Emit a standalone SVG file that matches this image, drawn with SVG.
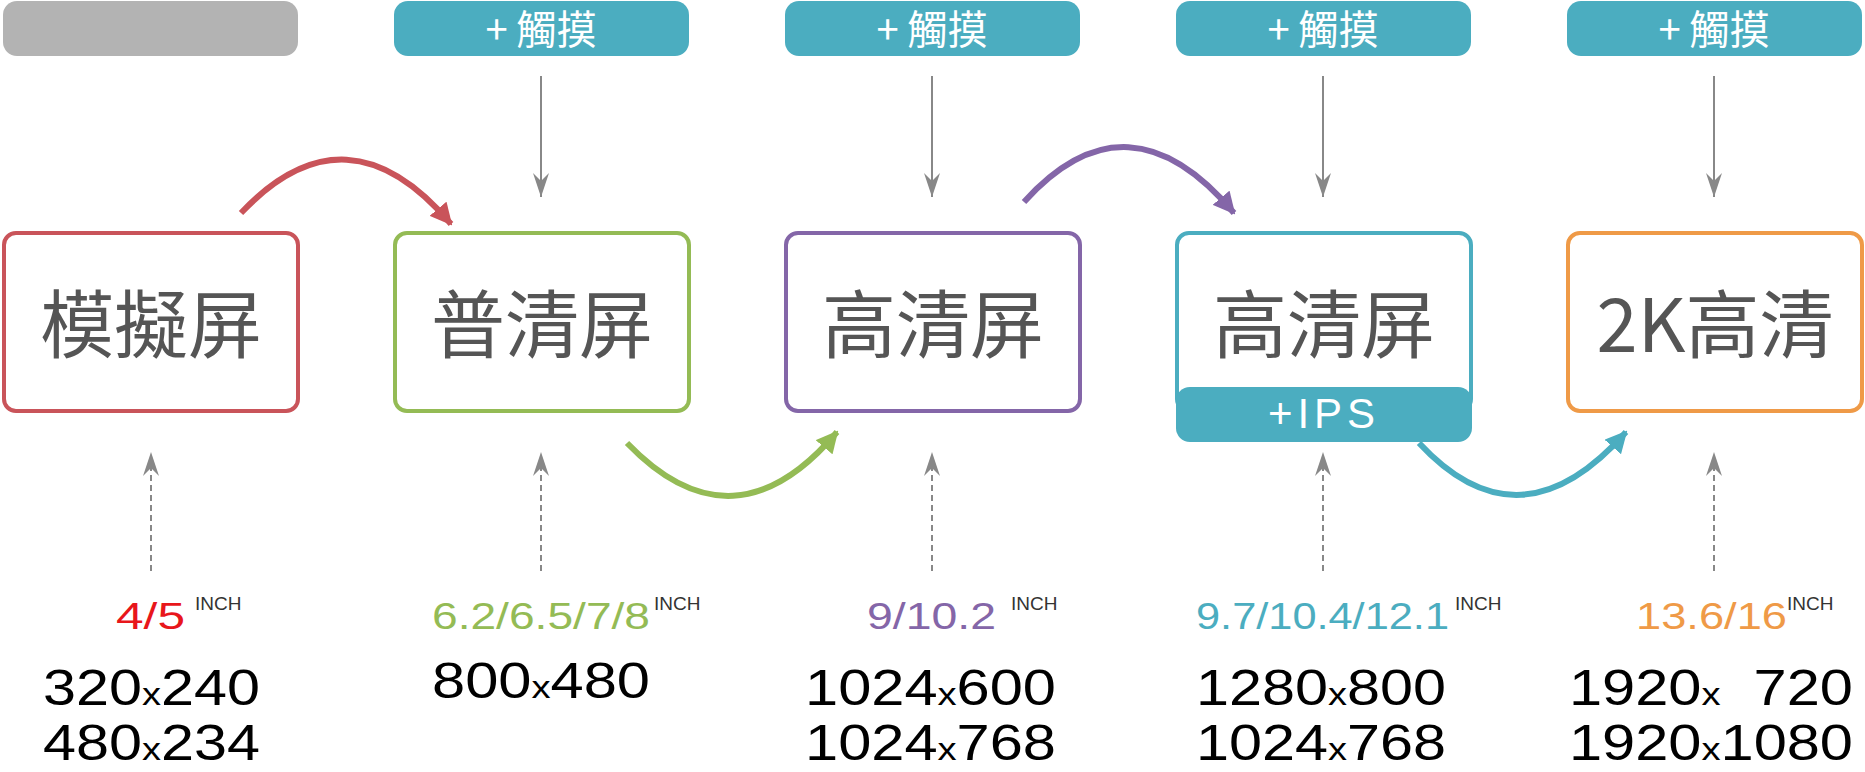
<svg xmlns="http://www.w3.org/2000/svg" width="1865" height="772" viewBox="0 0 1865 772">
<style>
.box{fill:#fff;stroke-width:4}
.pill{fill:#4badc0}
.pt{font-family:"Noto Sans CJK TC","Liberation Sans",sans-serif;font-size:40px;fill:#fff;text-anchor:middle}
.bt{font-family:"Noto Sans CJK TC","Liberation Sans",sans-serif;font-size:74px;fill:#555;text-anchor:middle}
.in{font-family:"Liberation Sans",sans-serif;font-size:36px}
.sup{font-family:"Liberation Sans",sans-serif;font-size:19px;fill:#333}
.res{font-family:"Liberation Sans",sans-serif;font-size:50px;fill:#000}
.x{font-size:32px}
.ga{stroke:#888;stroke-width:2;fill:none}
.cv{fill:none;stroke-width:6}
</style>
<defs>
<marker id="dn" markerUnits="userSpaceOnUse" markerWidth="24" markerHeight="16" viewBox="0 0 24 16" refX="24" refY="8" orient="auto"><path d="M24,8 L0,0 L8,8 L0,16 Z" fill="#888"/></marker>
<marker id="mr" markerUnits="userSpaceOnUse" markerWidth="22" markerHeight="22" viewBox="0 0 22 22" refX="20" refY="11" orient="auto"><path d="M0,0 L22,11 L0,22 Z" fill="#c9545a"/></marker>
<marker id="mg" markerUnits="userSpaceOnUse" markerWidth="22" markerHeight="22" viewBox="0 0 22 22" refX="20" refY="11" orient="auto"><path d="M0,0 L22,11 L0,22 Z" fill="#94bb55"/></marker>
<marker id="mp" markerUnits="userSpaceOnUse" markerWidth="22" markerHeight="22" viewBox="0 0 22 22" refX="20" refY="11" orient="auto"><path d="M0,0 L22,11 L0,22 Z" fill="#8466a8"/></marker>
<marker id="mt" markerUnits="userSpaceOnUse" markerWidth="22" markerHeight="22" viewBox="0 0 22 22" refX="20" refY="11" orient="auto"><path d="M0,0 L22,11 L0,22 Z" fill="#4badc0"/></marker>
</defs>
<rect x="3" y="1" width="295" height="55" rx="14" fill="#b3b3b3"/>
<g id="t2"><rect class="pill" x="394" y="1" width="295" height="55" rx="14"/><text class="pt" x="541" y="44" xml:space="preserve">+ 觸摸</text></g>
<g id="t3"><rect class="pill" x="785" y="1" width="295" height="55" rx="14"/><text class="pt" x="932" y="44" xml:space="preserve">+ 觸摸</text></g>
<g id="t4"><rect class="pill" x="1176" y="1" width="295" height="55" rx="14"/><text class="pt" x="1323" y="44" xml:space="preserve">+ 觸摸</text></g>
<g id="t5"><rect class="pill" x="1567" y="1" width="295" height="55" rx="14"/><text class="pt" x="1714" y="44" xml:space="preserve">+ 觸摸</text></g>
<g id="n1"><rect class="box" x="4" y="233" width="294" height="178" rx="12" stroke="#c9545a"/><text class="bt" x="151" y="352">模擬屏</text></g>
<g id="n2"><rect class="box" x="395" y="233" width="294" height="178" rx="12" stroke="#94bb55"/><text class="bt" x="542" y="352">普清屏</text></g>
<g id="n3"><rect class="box" x="786" y="233" width="294" height="178" rx="12" stroke="#8466a8"/><text class="bt" x="933" y="352">高清屏</text></g>
<g id="n4"><rect class="box" x="1177" y="233" width="294" height="178" rx="12" stroke="#4badc0"/><text class="bt" x="1324" y="352">高清屏</text>
<rect class="pill" x="1176" y="387" width="296" height="55" rx="14"/><text x="1324" y="428" font-family="Liberation Sans,sans-serif" font-size="42" fill="#fff" text-anchor="middle" letter-spacing="5">+IPS</text></g>
<g id="n5"><rect class="box" x="1568" y="233" width="294" height="178" rx="12" stroke="#ef9a47"/><text class="bt" x="1715" y="352">2K高清</text></g>
<g id="connectors">
<g class="ga">
<line x1="541" y1="76" x2="541" y2="197" marker-end="url(#dn)"/>
<line x1="932" y1="76" x2="932" y2="197" marker-end="url(#dn)"/>
<line x1="1323" y1="76" x2="1323" y2="197" marker-end="url(#dn)"/>
<line x1="1714" y1="76" x2="1714" y2="197" marker-end="url(#dn)"/>
<g stroke-dasharray="6,4">
<line x1="151" y1="571" x2="151" y2="452" marker-end="url(#dn)"/>
<line x1="541" y1="571" x2="541" y2="452" marker-end="url(#dn)"/>
<line x1="932" y1="571" x2="932" y2="452" marker-end="url(#dn)"/>
<line x1="1323" y1="571" x2="1323" y2="452" marker-end="url(#dn)"/>
<line x1="1714" y1="571" x2="1714" y2="452" marker-end="url(#dn)"/>
</g>
</g>
<path class="cv" stroke="#c9545a" d="M241,213 Q347,101 451,224" marker-end="url(#mr)"/>
<path class="cv" stroke="#94bb55" d="M627,443 Q734,554 837,432" marker-end="url(#mg)"/>
<path class="cv" stroke="#8466a8" d="M1024,202 Q1128,87 1234,213" marker-end="url(#mp)"/>
<path class="cv" stroke="#4badc0" d="M1419,443 Q1520,552 1626,432" marker-end="url(#mt)"/>
</g>
<g id="labels">
<text class="in" x="116" y="629" fill="#e8161b" textLength="69" lengthAdjust="spacingAndGlyphs">4/5</text><text class="sup" x="195" y="610">INCH</text>
<text class="in" x="432" y="629" fill="#94bb55" textLength="218" lengthAdjust="spacingAndGlyphs">6.2/6.5/7/8</text><text class="sup" x="654" y="610">INCH</text>
<text class="in" x="867" y="629" fill="#8466a8" textLength="129" lengthAdjust="spacingAndGlyphs">9/10.2</text><text class="sup" x="1011" y="610">INCH</text>
<text class="in" x="1196" y="629" fill="#4badc0" textLength="253" lengthAdjust="spacingAndGlyphs">9.7/10.4/12.1</text><text class="sup" x="1455" y="610">INCH</text>
<text class="in" x="1636" y="629" fill="#ef9a47" textLength="151" lengthAdjust="spacingAndGlyphs">13.6/16</text><text class="sup" x="1787" y="610">INCH</text>
<text class="res" x="43" y="705" textLength="217" lengthAdjust="spacingAndGlyphs">320<tspan class="x">x</tspan>240</text>
<text class="res" x="43" y="760" textLength="217" lengthAdjust="spacingAndGlyphs">480<tspan class="x">x</tspan>234</text>
<text class="res" x="432" y="698" textLength="218" lengthAdjust="spacingAndGlyphs">800<tspan class="x">x</tspan>480</text>
<text class="res" x="805" y="705" textLength="251" lengthAdjust="spacingAndGlyphs">1024<tspan class="x">x</tspan>600</text>
<text class="res" x="805" y="760" textLength="251" lengthAdjust="spacingAndGlyphs">1024<tspan class="x">x</tspan>768</text>
<text class="res" x="1196" y="705" textLength="250" lengthAdjust="spacingAndGlyphs">1280<tspan class="x">x</tspan>800</text>
<text class="res" x="1196" y="760" textLength="250" lengthAdjust="spacingAndGlyphs">1024<tspan class="x">x</tspan>768</text>
<text class="res" x="1569" y="705" textLength="284" lengthAdjust="spacingAndGlyphs" xml:space="preserve">1920<tspan class="x">x</tspan>  720</text>
<text class="res" x="1569" y="760" textLength="284" lengthAdjust="spacingAndGlyphs">1920<tspan class="x">x</tspan>1080</text>
</g>
</svg>
